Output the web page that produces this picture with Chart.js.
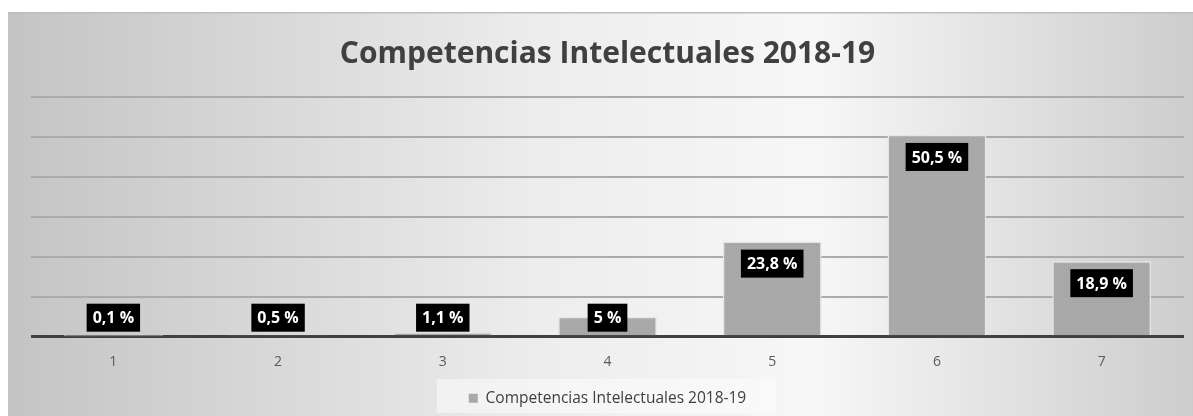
<!DOCTYPE html>
<html>
<head>
<meta charset="utf-8">
<script src="https://cdn.jsdelivr.net/npm/chart.js@4"></script>
<style>
  html, body { margin: 0; padding: 0; background: #fff; }
  #wrap { width: 1193px; height: 416px; }
</style>
</head>
<body>
<div id="wrap"><canvas id="chart" width="1193" height="416"></canvas></div>
<script>
const categories = ['1', '2', '3', '4', '5', '6', '7'];
const seriesName = 'Competencias Intelectuales 2018-19';
const values = [0.1, 0.5, 1.1, 5, 23.8, 50.5, 18.9];
const valueLabels = ['0,1 %', '0,5 %', '1,1 %', '5 %', '23,8 %', '50,5 %', '18,9 %'];

// dotted grey fill for the bars
function makePattern() {
    const c = document.createElement('canvas');
    c.width = 4; c.height = 4;
    const g = c.getContext('2d');
    g.fillStyle = '#aaaaaa';
    g.fillRect(0, 0, 4, 4);
    g.fillStyle = '#9d9d9d';
    g.fillRect(0, 0, 1, 1);
    g.fillRect(2, 2, 1, 1);
    return g.createPattern(c, 'repeat');
}

// panel background + legend box
const backgroundPlugin = {
    id: 'panelBg',
    beforeDraw(chart) {
        const ctx = chart.ctx;
        ctx.save();
        ctx.fillStyle = '#ffffff';
        ctx.fillRect(0, 0, chart.width, chart.height);
        const grad = ctx.createLinearGradient(8, 0, chart.width, 0);
        grad.addColorStop(0, '#c4c4c4');
        grad.addColorStop(0.45, '#ededed');
        grad.addColorStop(0.68, '#f7f7f7');
        grad.addColorStop(1, '#cdcdcd');
        ctx.fillStyle = grad;
        ctx.fillRect(8, 13, chart.width - 8, chart.height - 13);
        ctx.fillStyle = '#bdbdbd';
        ctx.fillRect(8, 12, chart.width - 8, 1.5);

        const hb = chart.legend.legendHitBoxes[0];
        if (hb) {
            ctx.fillStyle = 'rgba(255,255,255,0.45)';
            ctx.fillRect(hb.left - 32, 379, hb.width + 62, 34);
        }
        ctx.restore();
    }
};

// black value boxes
const labelPlugin = {
    id: 'valueBoxes',
    afterDatasetsDraw(chart) {
        const ctx = chart.ctx;
        const meta = chart.getDatasetMeta(0);
        const base = chart.scales.y.getPixelForValue(0);
        ctx.save();
        ctx.font = 'bold 16px "Open Sans"';
        ctx.textAlign = 'center';
        ctx.textBaseline = 'middle';
        meta.data.forEach((bar, i) => {
            const txt = valueLabels[i];
            const w = ctx.measureText(txt).width + 12;
            const h = 28;
            const cy = Math.min(bar.y + 22, base - 19);
            ctx.fillStyle = '#000000';
            ctx.fillRect(bar.x - w / 2, cy - h / 2, w, h);
            ctx.fillStyle = '#ffffff';
            ctx.fillText(txt, bar.x, cy + 1);
        });
        ctx.restore();
    }
};

const ctx = document.getElementById('chart').getContext('2d');
new Chart(ctx, {
    type: 'bar',
    data: {
        labels: categories,
        datasets: [{
            label: seriesName,
            data: values,
            backgroundColor: makePattern(),
            borderColor: '#e6e6e6',
            borderWidth: 1.5,
            barPercentage: 0.6,
            categoryPercentage: 1
        }]
    },
    options: {
        responsive: false,
        animation: false,
        layout: { padding: { left: 31, right: 9, top: 13, bottom: 0 } },
        plugins: {
            title: {
                display: true,
                text: seriesName,
                color: '#404040',
                font: { family: '"Open Sans"', size: 30, weight: 'bold' },
                padding: { top: 23, bottom: 25 }
            },
            legend: {
                position: 'bottom',
                labels: {
                    color: '#404040',
                    font: { family: '"Open Sans"', size: 15.5 },
                    boxWidth: 9,
                    boxHeight: 9,
                    padding: 8,
                    generateLabels: (chart) => [{
                        text: seriesName,
                        fillStyle: '#a9a9a9',
                        strokeStyle: '#a9a9a9',
                        lineWidth: 0,
                        fontColor: '#404040',
                        datasetIndex: 0
                    }]
                }
            },
            tooltip: { enabled: false }
        },
        scales: {
            x: {
                grid: { display: false, drawTicks: false },
                border: { display: false },
                ticks: { color: '#595959', font: { family: '"Open Sans"', size: 14 }, padding: 17 },
                afterFit: (scale) => { scale.height -= 5; }
            },
            y: {
                min: 0,
                max: 60,
                z: 1,
                ticks: { display: false, stepSize: 10 },
                border: { display: false },
                grid: {
                    color: (c) => c.tick.value === 0 ? '#404040' : '#ababab',
                    lineWidth: (c) => c.tick.value === 0 ? 3 : 2,
                    drawTicks: false
                }
            }
        }
    },
    plugins: [backgroundPlugin, labelPlugin]
});
</script>
</body>
</html>
